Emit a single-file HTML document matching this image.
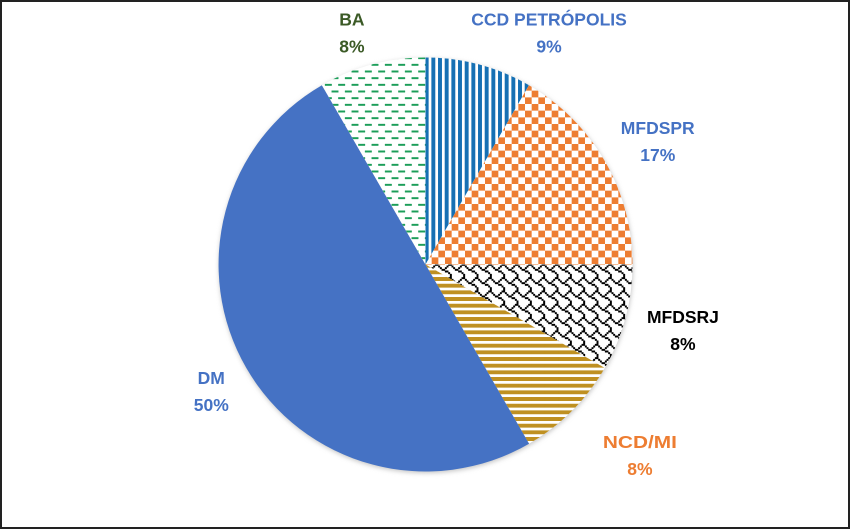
<!DOCTYPE html>
<html>
<head>
<meta charset="utf-8">
<style>
html,body{margin:0;padding:0;background:#fff;width:850px;height:529px;overflow:hidden}
svg{display:block}
text{font-family:"Liberation Sans",sans-serif;font-weight:700;font-size:17.5px;text-anchor:middle}
</style>
</head>
<body>
<svg id="chart" xmlns="http://www.w3.org/2000/svg" width="850" height="529" viewBox="0 0 850 529">
<defs id="defs">
<filter id="soft" x="-10%" y="-10%" width="120%" height="120%"><feGaussianBlur stdDeviation="2.5"/></filter>
<filter id="sliceSoft" x="-5%" y="-5%" width="110%" height="110%"><feGaussianBlur stdDeviation="0.2"/></filter>
<filter id="textSoft" x="-5%" y="-5%" width="110%" height="110%"><feGaussianBlur stdDeviation="0.25"/></filter>
</defs>
<rect x="1" y="1" width="848" height="527" fill="#fff" stroke="#222" stroke-width="2"/>
<circle cx="426" cy="266" r="207" fill="#c4c4c4" filter="url(#soft)"/>
<g id="slices" filter="url(#sliceSoft)"></g>
<g id="labels" filter="url(#textSoft)"></g>
</svg>
<script>
const categories = ["CCD PETRÓPOLIS", "MFDSPR", "MFDSRJ", "NCD/MI", "DM", "BA"];
const seriesValues = [8.33, 16.67, 8.33, 8.33, 50, 8.34];
const printedValues = ["9%", "17%", "8%", "8%", "50%", "8%"];

const cx = 425.5, cy = 264.5, radius = 207;
const hatchVertical = ["11001100","11001100","11001100","11001100","11001100","11001100","11001100","11001100"];
const hatchChecker = ["11110000","11110000","11110000","11110000","00001111","00001111","00001111","00001111"];
const hatchShingle = ["00000011","10000100","01001000","00110000","00001100","00000010","00000001","00000001"];
const hatchHorizontal = ["11111111","11111111","00000000","00000000","11111111","11111111","00000000","00000000"];
const hatchDash = ["11110000","00000000","00000000","00000000","00001111","00000000","00000000","00000000"];
const hatches = [hatchVertical, hatchChecker, hatchShingle, hatchHorizontal, null, hatchDash];
const hatchWeight = [0.6, 0, 0.3, 0.6, 0, 0.3];
const fills = ["#1470b4", "#ed7d31", "#000000", "#bf9020", "#4472c4", "#1f9e5a"];
const labelColors = ["#4472c4", "#4472c4", "#000000", "#ed7d31", "#4472c4", "#3b5a26"];
const labelNudge = { "CCD PETRÓPOLIS": [70, -32], "MFDSPR": [53, -20], "MFDSRJ": [57.5, 12], "NCD/MI": [68, 44], "DM": [-35, 23], "BA": [-20, -32] };
const labelWidth = { "NCD/MI": 74 };
const unit = 5 / 3, originX = 425, originY = 264;
const NS = "http://www.w3.org/2000/svg";
const total = seriesValues.reduce((a, b) => a + b, 0);
const angleOf = v => v / total * Math.PI * 2;
const xAt = (a, r) => cx + r * Math.sin(a);
const yAt = (a, r) => cy - r * Math.cos(a);

function hatchPath(rows) {
  let d = "";
  const tiles = Math.ceil((radius + 10) / (8 * unit));
  for (let ty = -tiles; ty < tiles; ty++) {
    for (let tx = -tiles; tx < tiles; tx++) {
      for (let r = 0; r < 8; r++) {
        let c = 0;
        while (c < 8) {
          if (rows[r][c] === "1") {
            let e = c;
            while (e < 8 && rows[r][e] === "1") e++;
            const x = originX + (tx * 8 + c) * unit, y = originY + (ty * 8 + r) * unit;
            d += `M${x.toFixed(2)} ${y.toFixed(2)}h${((e - c) * unit).toFixed(2)}v${unit.toFixed(2)}h${(-(e - c) * unit).toFixed(2)}z`;
            c = e;
          } else c++;
        }
      }
    }
  }
  return d;
}

const defs = document.getElementById("defs");
const slicesG = document.getElementById("slices");
const labelsG = document.getElementById("labels");
let acc = 0;
categories.forEach((cat, i) => {
  const a0 = acc, a1 = acc + angleOf(seriesValues[i]);
  acc = a1;
  const large = a1 - a0 > Math.PI ? 1 : 0;
  const slug = cat.toLowerCase().replace("ó", "o").replace(/[^a-z]+/g, "-");
  const wedge = `M${cx} ${cy} L${xAt(a0, radius)} ${yAt(a0, radius)} A${radius} ${radius} 0 ${large} 1 ${xAt(a1, radius)} ${yAt(a1, radius)} Z`;

  const p = document.createElementNS(NS, "path");
  p.setAttribute("d", wedge);
  p.setAttribute("fill", hatches[i] ? "#ffffff" : fills[i]);
  
  
  slicesG.appendChild(p);

  if (hatches[i]) {
    const clip = document.createElementNS(NS, "clipPath");
    clip.setAttribute("id", "clip-" + i);
    const cp = document.createElementNS(NS, "path");
    cp.setAttribute("d", wedge);
    clip.appendChild(cp);
    defs.appendChild(clip);
    const h = document.createElementNS(NS, "path");
    h.setAttribute("d", hatchPath(hatches[i]));
    h.setAttribute("fill", fills[i]);
    if (hatchWeight[i] > 0) {
      h.setAttribute("stroke", fills[i]);
      h.setAttribute("stroke-width", hatchWeight[i]);
    }
    h.setAttribute("clip-path", "url(#clip-" + i + ")");
    
    
    slicesG.appendChild(h);
  }

  const mid = (a0 + a1) / 2;
  const n = labelNudge[cat];
  const lx = xAt(mid, radius) + n[0], ly = yAt(mid, radius) + n[1];

  const t1 = document.createElementNS(NS, "text");
  t1.setAttribute("x", lx);
  t1.setAttribute("y", ly - 7);
  t1.setAttribute("fill", labelColors[i]);
  if (labelWidth[cat]) {
    t1.setAttribute("textLength", labelWidth[cat]);
    t1.setAttribute("lengthAdjust", "spacingAndGlyphs");
  }
  t1.textContent = cat;
  
  
  labelsG.appendChild(t1);

  const t2 = document.createElementNS(NS, "text");
  t2.setAttribute("x", lx);
  t2.setAttribute("y", ly + 20);
  t2.setAttribute("fill", labelColors[i]);
  t2.textContent = printedValues[i];
  
  
  labelsG.appendChild(t2);
});
</script>
</body>
</html>
